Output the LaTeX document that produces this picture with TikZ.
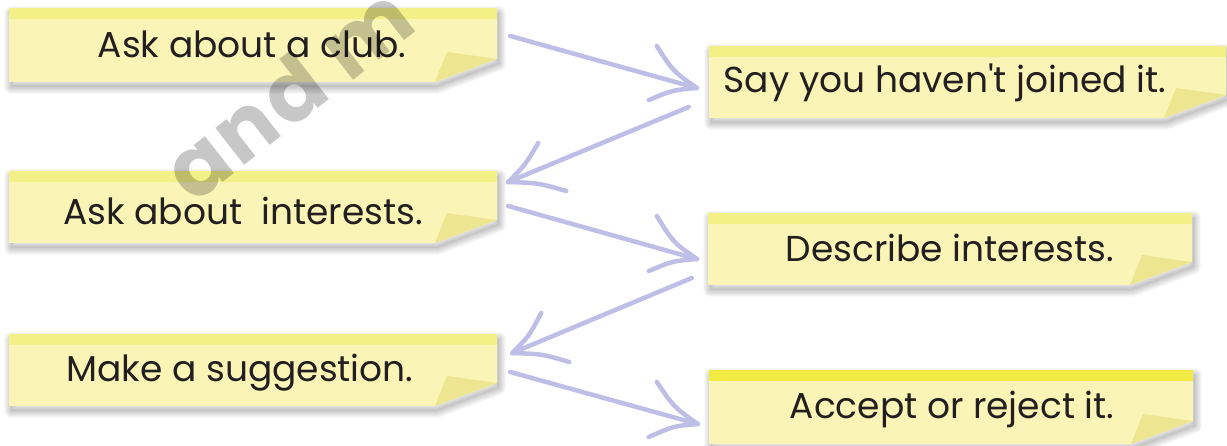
\documentclass[tikz,border=0pt]{standalone}
\usepackage{fontspec}
\setmainfont{Poppins}[Ligatures=TeXOff]
\usetikzlibrary{calc,fit}
\definecolor{notebody}{RGB}{250,245,182}
\definecolor{notestripe}{RGB}{244,240,136}
\definecolor{notestripeB}{RGB}{242,235,68}
\definecolor{notefold}{RGB}{237,229,143}
\definecolor{arrowcol}{RGB}{190,190,230}
\definecolor{inkcol}{RGB}{35,31,32}
\tikzset{
  notearea/.style={inner sep=0pt, draw=none},
  notetext/.style={inner sep=0pt, anchor=base, text=inkcol, font=\fontsize{36}{40}\selectfont},
  arr/.style={draw=arrowcol, line width=4.5pt, line cap=round, line join=round},
  watermark/.style={inner sep=0pt, text=black, text opacity=0.22, font=\fontsize{84}{84}\selectfont\bfseries\addfontfeature{LetterSpace=4}}
}
% name, L, T, R, B, stripe colour
\newcommand{\stickynote}[6]{%
  \foreach \w in {2,4,...,14}{%
    \draw[black, opacity=0.028, line width=\w pt, line join=round]
      ({#2+2},{#3+5}) -- ({#4+2},{#3+5}) -- ({#4+2},{#5-18}) -- ({#4-60},{#5+5}) -- ({#2+2},{#5+5}) -- cycle;}
  \fill[black, opacity=0.05]
      ({#2+2},{#3+5}) -- ({#4+2},{#3+5}) -- ({#4+2},{#5-18}) -- ({#4-60},{#5+5}) -- ({#2+2},{#5+5}) -- cycle;
  \fill[notebody] (#2,#3) -- (#4,#3) -- (#4,{#5-23}) -- ({#4-62},#5) -- (#2,#5) -- cycle;
  \fill[#6] (#2,#3) rectangle (#4,{#3+11});
  \fill[notefold] ({#4-62},#5) -- ({#4-50},{#5-30}) -- (#4,{#5-23}) -- cycle;
  \node[notearea, fit={(#2,#3) (#4,#5)}] (#1) {};
}
% tip name, upper barb offset, lower barb offset, upper ctrl, lower ctrl
\newcommand{\barbs}[5]{%
  \draw[arr] ([shift={#2}]#1) .. controls ([shift={#4}]#1) .. (#1);
  \draw[arr] ([shift={#3}]#1) .. controls ([shift={#5}]#1) .. (#1);
}
\begin{document}
\begin{tikzpicture}[x=1pt,y=-1pt]
\useasboundingbox[fill=white] (0,0) rectangle (1227,446);

\stickynote{n1}{9}{8}{497}{82}{notestripe}
\stickynote{n2}{709}{46}{1226}{118}{notestripe}
\stickynote{n3}{9}{171}{497}{243}{notestripe}
\stickynote{n4}{708}{213}{1192}{285}{notestripe}
\stickynote{n5}{9}{334}{497}{406}{notestripe}
\stickynote{n6}{709}{370}{1193}{444}{notestripeB}

\node[notetext] (t1) at (252,58) {Ask about a club.};
\node[notetext] (t2) at (945,93) {Say you haven't joined it.};
\node[notetext] (t3) at (243,225) {Ask about\ \ interests.};
\node[notetext] (t4) at (950,262) {Describe interests.};
\node[notetext] (t5) at (240,382) {Make a suggestion.};
\node[notetext] (t6) at (952,418) {Accept or reject it.};

% arrow ends
\coordinate (a1s) at ([shift={(13,-9)}]n1.east);
\coordinate (a1t) at ([shift={(-12,6)}]n2.west);
\coordinate (a2s) at ([shift={(-20,25)}]n2.west);
\coordinate (a2t) at ([shift={(11,-25)}]n3.east);
\coordinate (a3s) at ([shift={(11,-1)}]n3.east);
\coordinate (a3t) at ([shift={(-11,10)}]n4.west);
\coordinate (a4s) at ([shift={(-16,29)}]n4.west);
\coordinate (a4t) at ([shift={(15,-17)}]n5.east);
\coordinate (a5s) at ([shift={(13,2)}]n5.east);
\coordinate (a5t) at ([shift={(-11,17)}]n6.west);

\draw[arr] (a1s) -- (a1t);
\barbs{a1t}{(-40,-42)}{(-48,12)}{(-24,-17)}{(-24,2)}
\draw[arr] (a2s) -- (a2t);
\barbs{a2t}{(30,-39)}{(58,9)}{(17,-17)}{(30,1)}
\draw[arr] (a3s) -- (a3t);
\barbs{a3t}{(-40,-43)}{(-48,12)}{(-24,-17)}{(-24,2)}
\draw[arr] (a4s) -- (a4t);
\barbs{a4t}{(29,-40)}{(57,9)}{(17,-17)}{(30,1)}
\draw[arr] (a5s) -- (a5t);
\barbs{a5t}{(-41,-42)}{(-49,13)}{(-24,-17)}{(-24,2)}

\node[watermark, rotate=38, anchor=base west] (wm) at (193,206) {and m};
\end{tikzpicture}
\end{document}
